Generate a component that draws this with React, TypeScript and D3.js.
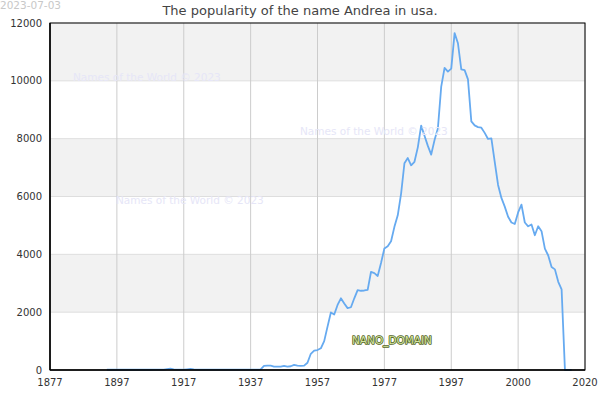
import React from "react";
import * as d3 from "d3";

const title = "The popularity of the name Andrea in usa.";
const dateLabel = "2023-07-03";
const watermark = "Names of the World © 2023";
const domainLabel = "NANO_DOMAIN";

// x tick positions (in the chart's own year domain) and the labels printed under them
const xTickValues = [1877, 1897, 1917, 1937, 1957, 1977, 1997, 2017, 2037];
const xTickLabels = ["1877", "1897", "1917", "1937", "1957", "1977", "1997", "2000", "2020"];
const yTickValues = [0, 2000, 4000, 6000, 8000, 10000, 12000];

const startYear = 1894;
const values = [
  // 1894-1939
  8, 8, 8, 8, 8, 8, 8, 8, 8, 8,
  8, 8, 8, 8, 10, 10, 10, 15, 30, 45,
  20, 10, 10, 10, 25, 40, 20, 12, 10, 10,
  10, 10, 10, 10, 10, 10, 10, 10, 10, 10,
  10, 10, 10, 10, 12, 12,
  // 1940-1957
  20, 140, 150, 150, 120, 115, 120, 145, 120, 130,
  175, 150, 145, 150, 250, 560, 670, 690,
  // 1958-1979
  750, 1000, 1500, 1990, 1920, 2250, 2480, 2300, 2140, 2170,
  2480, 2760, 2740, 2750, 2770, 3390, 3350, 3250, 3700, 4200,
  4280, 4450,
  // 1980-2002
  4950, 5350, 6100, 7150, 7330, 7080, 7200, 7700, 8450, 8100,
  7750, 7450, 7950, 8350, 9800, 10450, 10320, 10420, 11650, 11300,
  10400, 10370, 10050,
  // 2003-2033
  8600, 8460, 8400, 8380, 8200, 7990, 8010, 7200, 6400, 5950,
  5650, 5300, 5100, 5050, 5450, 5720, 5100, 4970, 5030, 4660,
  4970, 4800, 4200, 3960, 3560, 3480, 3050, 2790, 0, 0, 0,
];

const W = 600;
const H = 400;
const m = { left: 50, right: 15, top: 23, bottom: 30 };
const FONT = "'DejaVu Sans', sans-serif";

export default function App() {
  const x = d3.scaleLinear().domain([1877, 2037]).range([m.left, W - m.right]);
  const y = d3.scaleLinear().domain([0, 12000]).range([H - m.bottom, m.top]);
  const data = values.map((v, i) => ({ year: startYear + i, v }));
  const line = d3
    .line<{ year: number; v: number }>()
    .x((d) => x(d.year))
    .y((d) => y(d.v));

  const bands = d3.range(0, 12000, 2000);

  return (
    <svg
      width={W}
      height={H}
      style={{ position: "absolute", left: 0, top: 0, background: "#fff" }}
      fontFamily={FONT}
    >
      <text x={0} y={9} fontSize={10.5} fill="#c8c8c8">
        {dateLabel}
      </text>
      <text x={300} y={15} fontSize={13} fill="#444" textAnchor="middle">
        {title}
      </text>
      {bands.map((b, i) => (
        <rect
          key={b}
          x={m.left}
          width={W - m.right - m.left}
          y={y(b + 2000)}
          height={y(b) - y(b + 2000)}
          fill={i % 2 === 1 ? "#f2f2f2" : "#ffffff"}
        />
      ))}
      {yTickValues.map((t) => (
        <line
          key={"hy" + t}
          x1={m.left}
          x2={W - m.right}
          y1={y(t)}
          y2={y(t)}
          stroke="#dedede"
          strokeWidth={1}
        />
      ))}
      {xTickValues.map((t) => (
        <line
          key={"vx" + t}
          x1={x(t)}
          x2={x(t)}
          y1={m.top}
          y2={H - m.bottom}
          stroke="#cccccc"
          strokeWidth={1}
        />
      ))}
      <path d={line(data) || ""} fill="none" stroke="#66aaf0" strokeWidth={1.8} strokeLinejoin="round" />
      <text x={73} y={81} fontSize={10.5} fill="#e6e6f7">{watermark}</text>
      <text x={300} y={135} fontSize={10.5} fill="#e6e6f7">{watermark}</text>
      <text x={116} y={204} fontSize={10.5} fill="#e6e6f7">{watermark}</text>
      <text
        x={352}
        y={344}
        fontSize={10.5}
        fill="#d6e6a0"
        stroke="#55652a"
        strokeWidth={1.6}
        strokeLinejoin="round"
        style={{ paintOrder: "stroke" }}
      >
        {domainLabel}
      </text>
      <rect
        x={m.left}
        y={m.top}
        width={W - m.right - m.left}
        height={H - m.bottom - m.top}
        fill="none"
        stroke="#000"
        strokeWidth={1}
      />
      <line x1={m.left} x2={m.left} y1={m.top} y2={H - m.bottom} stroke="#000" strokeWidth={1.5} />
      <line x1={m.left} x2={W - m.right} y1={H - m.bottom} y2={H - m.bottom} stroke="#000" strokeWidth={1.5} />
      {yTickValues.map((t) => (
        <text key={"ty" + t} x={42} y={y(t)} dy="0.35em" fontSize={10} fill="#333" textAnchor="end">
          {t}
        </text>
      ))}
      {xTickValues.map((t, i) => (
        <text key={"tx" + t} x={x(t)} y={386} fontSize={10} fill="#333" textAnchor="middle">
          {xTickLabels[i]}
        </text>
      ))}
    </svg>
  );
}
